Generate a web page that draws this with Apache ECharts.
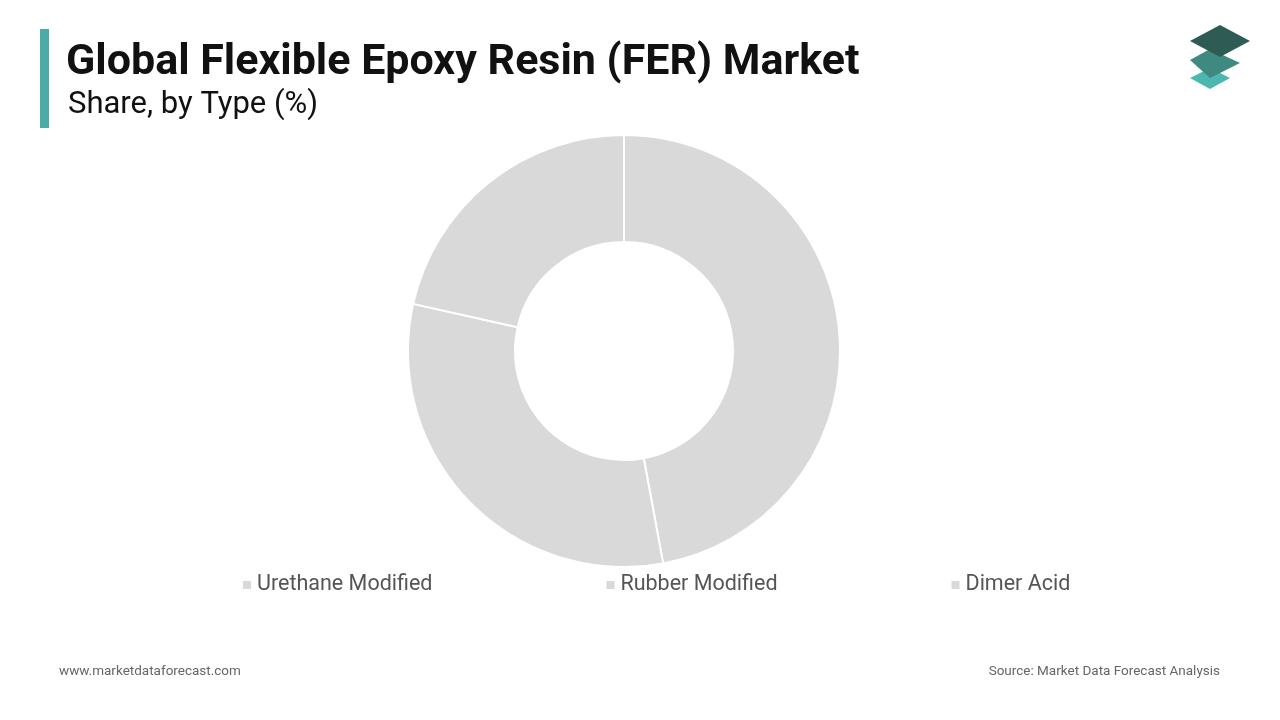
<!DOCTYPE html>
<html><head><meta charset="utf-8">
<script src="https://cdn.jsdelivr.net/npm/echarts@6/dist/echarts.min.js"></script>
<style>html,body{margin:0;padding:0;background:#fff}#c{width:1280px;height:720px}</style>
</head><body><div id="c"></div>
<script>
const categories = ["Urethane Modified", "Rubber Modified", "Dimer Acid"];
const values = [47.1, 31.4, 21.5];
const chart = echarts.init(document.getElementById('c'));
chart.setOption({
  animation: false,
  backgroundColor: '#fff',
  color: ['#d9d9d9', '#d9d9d9', '#d9d9d9'],
  graphic: [
    {type:'rect', shape:{x:40,y:29,width:9,height:99}, style:{fill:'#4aaba7'}},
    {type:'text', left:66, top:42, style:{text:'Global Flexible Epoxy Resin (FER) Market', font:'bold 43px Roboto', fill:'#111'}},
    {type:'text', left:68, top:90, style:{text:'Share, by Type (%)', font:'31px Roboto', fill:'#111'}},
    {type:'text', left:59, top:665, style:{text:'www.marketdataforecast.com', font:'13.5px Roboto', fill:'#666'}},
    {type:'text', right:60, top:665, style:{text:'Source: Market Data Forecast Analysis', font:'13.5px Roboto', fill:'#666', align:'right'}},
    {type:'polygon', shape:{points:[[1210,71],[1230,60],[1210,50],[1190,60]].map(p=>[p[0],p[1]+18])}, style:{fill:'#4bb8b0'}},
    {type:'polygon', shape:{points:[[1210,62],[1240,47],[1210,33],[1190,44]].map(p=>[p[0],p[1]+16])}, style:{fill:'#3f8a80'}},
    {type:'polygon', shape:{points:[[1220,57],[1250,41],[1220,25],[1190,41]]}, style:{fill:'#2e5c55'}}
  ],
  legend: {
    bottom: 124, left: 241, padding: 0, itemGap: 172, itemWidth: 10, itemHeight: 10, icon: 'rect',
    textStyle: {fontSize: 21.5, color: '#555', fontFamily: 'Roboto'},
    data: categories
  },
  series: [{
    type: 'pie', center: [624, 351], radius: [109, 216], startAngle: 90, clockwise: true,
    label: {show: false}, labelLine: {show: false},
    itemStyle: {borderColor: '#fff', borderWidth: 2},
    emphasis: {disabled: true},
    data: categories.map((n, i) => ({name: n, value: values[i]}))
  }]
});
</script></body></html>
